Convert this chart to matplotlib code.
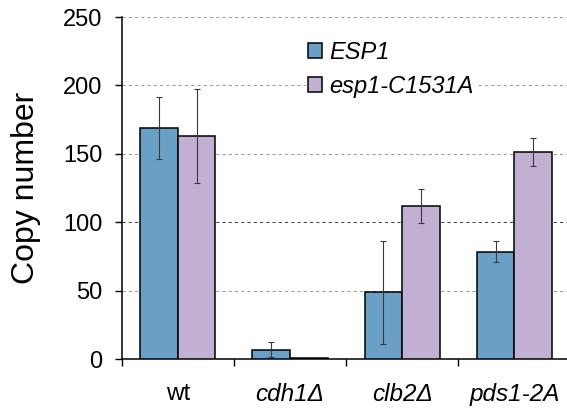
import matplotlib
matplotlib.use("Agg")
import matplotlib.pyplot as plt
import numpy as np

plt.rcParams['font.family'] = ['Liberation Sans', 'DejaVu Sans']

categories = ["wt", "cdh1Δ", "clb2Δ", "pds1-2A"]
series_names = ["ESP1", "esp1-C1531A"]
esp1_vals = [169, 6.6, 48.7, 78.4]
esp1_err = [22.5, 5.5, 37.6, 7.8]
mut_vals = [163.2, 0.6, 111.6, 151.3]
mut_err = [34.5, 0, 12.5, 10.1]
yticks = [0, 50, 100, 150, 200, 250]

colors = ["#6aa0c6", "#c1b0d2"]

fig = plt.figure(figsize=(5.67, 4.11), dpi=100)
ax = fig.add_axes([121.7/567, 52/411, (570.6-121.7)/567, 342/411])

x = np.arange(len(categories))
w = 0.335
ekw = dict(ecolor="#3a3a3a", elinewidth=0.8, capsize=2.4, capthick=0.8)
ax.bar(x - w/2, esp1_vals, w, yerr=esp1_err, color=colors[0], edgecolor="black",
       linewidth=1.1, error_kw=ekw, zorder=3, label=series_names[0])
mut_yerr = [e if e > 0 else np.nan for e in mut_err]
ax.bar(x + w/2, mut_vals, w, yerr=mut_yerr, color=colors[1], edgecolor="black",
       linewidth=1.1, error_kw=ekw, zorder=3, label=series_names[1])

ax.set_xlim(-0.5, len(categories) - 0.5)
ax.set_ylim(0, 250)
ax.set_yticks(yticks)
ax.set_yticklabels([str(v) for v in yticks], fontsize=17)

for v in yticks[1:]:
    ax.axhline(v, color="#444444" if v == 100 else "#9a9a9a", linewidth=0.75,
               dashes=(3, 3), zorder=1)

ax.set_xticks(x)
ax.set_xticklabels(categories, fontsize=17.5)
for i, lab in enumerate(ax.get_xticklabels()):
    if i > 0:
        lab.set_style("italic")
ax.tick_params(axis="x", which="major", length=0, pad=17)
ax.set_xticks(np.arange(len(categories)) - 0.5, minor=True)
ax.tick_params(axis="x", which="minor", length=5, width=1.0, direction="out")
ax.tick_params(axis="y", length=5, width=1.0, direction="out", pad=9)

ax.spines["top"].set_visible(False)
ax.spines["right"].set_visible(False)
ax.spines["left"].set_linewidth(1.1)
ax.spines["bottom"].set_linewidth(1.1)

ax.set_ylabel("Copy number", fontsize=23, labelpad=16)

leg = ax.legend(loc="upper left", bbox_to_anchor=(0.41, 0.937), frameon=True,
                prop={"style": "italic", "size": 17},
                handlelength=0.6, handleheight=0.6, handletextpad=0.3,
                labelspacing=0.45, borderpad=0.1, borderaxespad=0)
leg.get_frame().set_facecolor("white")
leg.get_frame().set_edgecolor("white")
leg.get_frame().set_alpha(1)
leg.set_zorder(5)

fig.savefig("out.png", dpi=100)
